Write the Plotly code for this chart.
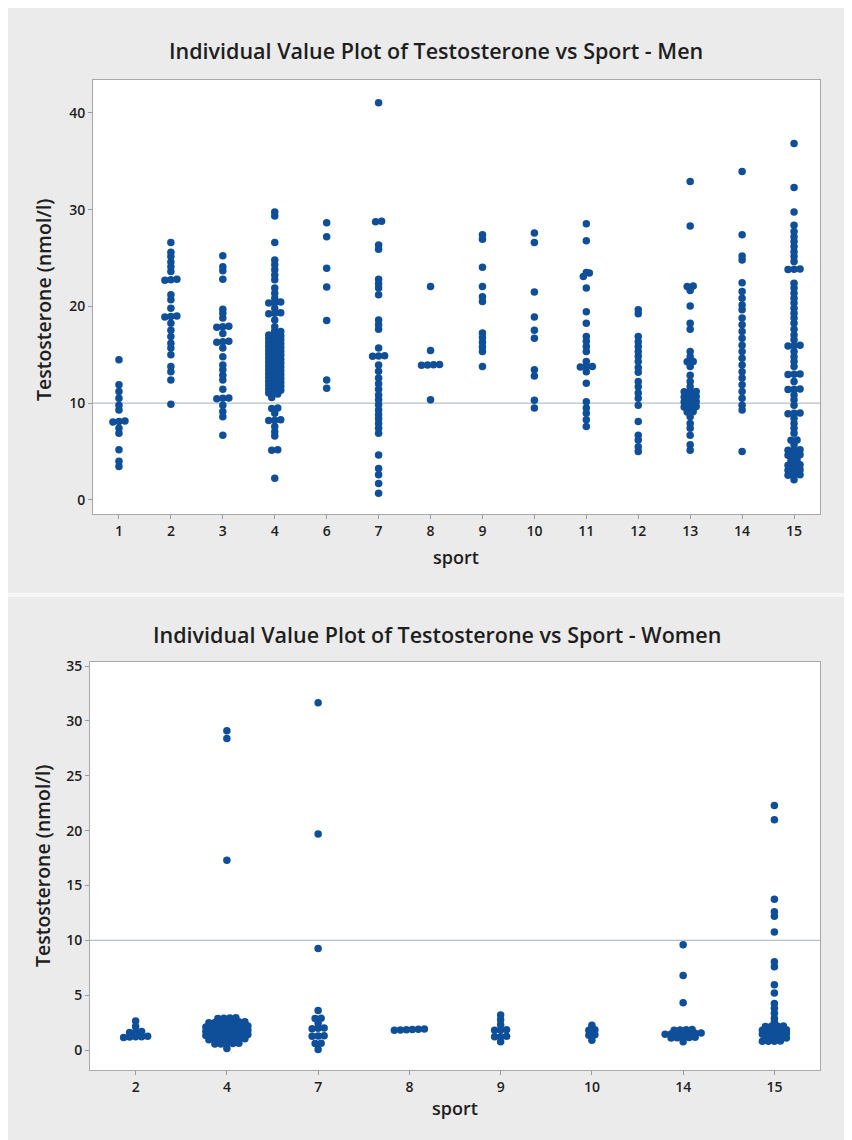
import plotly.graph_objects as go

# ---------------- data ----------------
men_sports = ["1", "2", "3", "4", "6", "7", "8", "9", "10", "11", "12", "13", "14", "15"]

men_s1 = [14.5, 11.9, 11.2, 10.5, 9.8, 9.3, 8.15, 8.1, 8.05, 7.4, 6.9, 5.2, 4.0, 3.45]
men_s2 = [26.6, 25.6, 25.15, 24.6, 24.1, 23.6, 22.8, 22.75, 22.7, 21.2, 20.7, 19.8, 19.0,
          18.95, 18.9, 18.25, 17.55, 16.9, 16.2, 15.7, 15.0, 13.8, 13.25, 12.4, 9.9]
men_s3 = [25.25, 24.1, 23.7, 22.8, 19.7, 19.3, 18.8, 17.95, 17.9, 17.85, 17.2, 16.4, 16.35,
          16.3, 15.7, 14.8, 13.95, 13.45, 12.9, 12.4, 11.45, 10.55, 10.5, 10.45, 9.8, 9.15,
          8.6, 6.7]
men_s4 = [29.75, 29.35, 26.6, 24.8, 24.3, 23.8, 23.25, 22.75, 21.9, 21.35, 20.85, 20.45,
          20.4, 20.35, 19.8, 19.35, 19.3, 19.25, 18.6, 17.9, 17.45, 17.4, 17.3, 17.05, 16.95,
          16.85, 16.65, 16.55, 16.45, 16.25, 16.15, 16.05, 15.85, 15.75, 15.65, 15.45, 15.35,
          15.25, 15.05, 14.95, 14.85, 14.65, 14.55, 14.45, 14.25, 14.15, 14.05, 13.85, 13.75,
          13.65, 13.45, 13.35, 13.25, 13.05, 12.95, 12.85, 12.65, 12.55, 12.45, 12.25, 12.15,
          12.05, 11.85, 11.75, 11.65, 11.45, 11.35, 11.25, 11.05, 10.95, 10.6, 9.5, 9.45,
          8.95, 8.3, 8.25, 8.2, 7.6, 7.05, 6.6, 5.2, 5.15, 2.25]
men_s6 = [28.65, 27.2, 23.95, 22.0, 18.55, 12.4, 11.55]
men_s7 = [41.05, 28.8, 28.75, 26.35, 25.9, 22.8, 22.35, 21.9, 21.2, 18.6, 18.1, 17.65, 15.7,
          14.9, 14.88, 14.85, 13.95, 13.3, 12.6, 12.0, 11.45, 10.85, 10.35, 9.85, 9.3, 8.8,
          8.4, 7.9, 7.4, 6.9, 4.65, 3.25, 2.6, 1.7, 0.7]
men_s8 = [22.05, 15.45, 14.0, 13.97, 13.95, 13.92, 10.35]
men_s9 = [27.4, 26.95, 24.05, 22.05, 21.0, 20.5, 17.25, 16.8, 16.3, 15.8, 15.35, 13.8]
men_s10 = [27.6, 26.6, 21.5, 18.9, 17.55, 16.7, 13.45, 12.8, 10.3, 9.5]
men_s11 = [28.55, 26.8, 23.5, 23.45, 23.1, 21.9, 19.45, 18.25, 16.9, 16.4, 15.85, 15.35,
           14.3, 13.8, 13.78, 13.75, 13.25, 12.05, 10.15, 9.5, 8.95, 8.3, 7.6]
men_s12 = [19.65, 19.25, 16.9, 16.35, 15.85, 15.35, 14.85, 14.3, 13.7, 13.2, 12.25, 11.7,
           11.05, 10.5, 9.8, 8.1, 6.7, 6.2, 5.5, 5.0]
men_s13 = [32.9, 28.3, 22.1, 22.05, 21.65, 20.05, 18.25, 17.65, 15.35, 14.8, 14.32, 14.28,
           13.8, 12.9, 12.25, 11.7, 11.22, 11.2, 11.18, 10.7, 10.68, 10.65, 10.18, 10.15,
           10.12, 9.65, 9.62, 9.6, 9.13, 9.1, 8.6, 7.9, 7.4, 6.7, 5.7, 5.15]
men_s14 = [33.95, 27.4, 25.2, 24.8, 22.45, 21.55, 20.85, 20.15, 19.65, 18.8, 18.1, 17.4,
           16.7, 16.0, 15.35, 14.65, 13.95, 13.25, 12.6, 11.9, 11.2, 10.5, 9.8, 9.3, 5.0]
men_s15 = [36.85, 32.3, 29.75, 28.4, 27.75, 27.2, 26.7, 26.2, 25.65, 25.15, 24.65, 23.88,
           23.85, 23.82, 22.4, 21.9, 21.35, 20.85, 20.35, 19.8, 19.3, 18.8, 18.25, 17.65,
           17.05, 16.55, 15.98, 15.95, 15.92, 15.35, 14.8, 14.3, 13.8, 13.02, 13.0, 12.97,
           12.25, 11.47, 11.45, 11.42, 10.85, 10.35, 9.8, 8.98, 8.95, 8.92, 8.45, 7.9, 7.4,
           6.9, 6.2, 6.18, 5.7, 5.2, 5.17, 5.15, 4.68, 4.65, 4.62, 4.15, 4.1, 3.65, 3.62,
           3.6, 3.12, 3.1, 3.08, 2.6, 2.58, 2.55, 2.1]

men_values = [men_s1, men_s2, men_s3, men_s4, men_s6, men_s7, men_s8, men_s9, men_s10,
              men_s11, men_s12, men_s13, men_s14, men_s15]

women_sports = ["2", "4", "7", "8", "9", "10", "14", "15"]

women_s2 = [2.65, 2.15, 1.7, 1.65, 1.6, 1.25, 1.22, 1.2, 1.18, 1.15]
women_s4 = [29.1, 28.4, 17.3,
            2.88, 2.9, 2.92, 2.95,
            2.49, 2.5, 2.52, 2.53, 2.55, 2.57, 2.58,
            2.1, 2.11, 2.13, 2.14, 2.16, 2.17, 2.19, 2.2,
            1.71, 1.72, 1.74, 1.75, 1.77, 1.78, 1.8, 1.81,
            1.32, 1.33, 1.35, 1.36, 1.38, 1.39, 1.41, 1.42,
            0.93, 0.95, 0.96, 0.98, 0.99, 1.01, 1.02,
            0.54, 0.56, 0.58, 0.6, 0.62,
            0.15]
women_s7 = [31.65, 19.7, 9.25, 3.6, 2.9, 2.88, 2.45, 2.0, 1.98, 1.95, 1.3, 1.28, 1.25,
            0.62, 0.6, 0.05]
women_s8 = [1.8, 1.82, 1.85, 1.88, 1.9, 1.92]
women_s9 = [3.2, 2.75, 2.3, 1.85, 1.82, 1.8, 1.25, 1.22, 1.2, 0.75]
women_s10 = [2.25, 1.85, 1.8, 1.4, 1.35, 0.9]
women_s14 = [9.6, 6.8, 4.3, 1.8, 1.82, 1.85, 1.87, 1.45, 1.46, 1.48, 1.5, 1.52, 1.53,
             1.55, 1.1, 1.12, 1.13, 1.15, 1.17, 0.75]
women_s15 = [22.3, 21.0, 13.75, 12.6, 12.2, 10.75, 8.05, 7.6, 5.95, 5.2, 4.25, 3.8, 3.35,
             2.9, 2.55, 2.2, 2.18, 2.16, 2.15, 1.85, 1.84, 1.83, 1.82, 1.8, 1.5, 1.49,
             1.48, 1.47, 1.45, 1.15, 1.14, 1.13, 1.12, 1.1, 0.82, 0.81, 0.8, 0.79]

women_values = [women_s2, women_s4, women_s7, women_s8, women_s9, women_s10, women_s14,
                women_s15]

reference_value = 10
men_yticks = [0, 10, 20, 30, 40]
women_yticks = [0, 5, 10, 15, 20, 25, 30, 35]

# ---------------- layout geometry ----------------
W, H = 844, 1132
OX, OY = 8, 8          # page offset of the figure in the browser

def fx(px):
    return (px - OX) / W

def fy(py):
    return 1 - (py - OY) / H

TOP = dict(x0=93, x1=820, y0=80, y1=514)
BOT = dict(x0=90, x1=820, y0=662, y1=1070)
men_yrange = [-1.45, 43.4]
women_yrange = [-1.82, 35.37]
men_xrange = [-0.5, len(men_sports) - 0.5]
women_xrange = [-0.5, len(women_sports) - 0.5]

DOT = "#0f4f99"
ROW_PX = 3.6
DX_PX = 6.0


def swarm(groups, box, xrange_, yrange_):
    ppu = (box["y1"] - box["y0"]) / (yrange_[1] - yrange_[0])
    ppc = (box["x1"] - box["x0"]) / (xrange_[1] - xrange_[0])
    xs, ys = [], []
    for ci, vals in enumerate(groups):
        rows = []
        for v in sorted(vals):
            if rows and (v - rows[-1][0]) * ppu < ROW_PX:
                rows[-1].append(v)
            else:
                rows.append([v])
        for r in rows:
            n = len(r)
            for i, v in enumerate(r):
                xs.append(ci + (i - (n - 1) / 2) * DX_PX / ppc)
                ys.append(v)
    return xs, ys


mx, my = swarm(men_values, TOP, men_xrange, men_yrange)
wx, wy = swarm(women_values, BOT, women_xrange, women_yrange)

fig = go.Figure()
fig.add_trace(go.Scatter(x=mx, y=my, mode="markers", xaxis="x", yaxis="y",
                         marker=dict(size=7.5, color=DOT, line=dict(width=0)),
                         showlegend=False, hoverinfo="y"))
fig.add_trace(go.Scatter(x=wx, y=wy, mode="markers", xaxis="x2", yaxis="y2",
                         marker=dict(size=7.5, color=DOT, line=dict(width=0)),
                         showlegend=False, hoverinfo="y"))

FONT = "Open Sans, Noto Sans, sans-serif"
TXT = "#1e1e1e"
FRAME = "#a8a8a8"

axis_common = dict(showgrid=False, zeroline=False, showline=True, linecolor=FRAME,
                   linewidth=1, mirror=True, ticks="outside", ticklen=4, tickcolor="#9a9a9a",
                   tickfont=dict(family=FONT, size=14, color=TXT, weight=600),
                   automargin=False, fixedrange=True)

fig.update_layout(
    width=W, height=H,
    margin=dict(l=0, r=0, t=0, b=0),
    paper_bgcolor="#ebebeb",
    plot_bgcolor="white",
    template="none",
    xaxis=dict(domain=[fx(TOP["x0"]), fx(TOP["x1"])], range=men_xrange, anchor="y",
               tickmode="array", tickvals=list(range(len(men_sports))), ticktext=men_sports,
               **axis_common),
    yaxis=dict(domain=[fy(TOP["y1"]), fy(TOP["y0"])], range=men_yrange, anchor="x",
               tickmode="array", tickvals=men_yticks, **axis_common),
    xaxis2=dict(domain=[fx(BOT["x0"]), fx(BOT["x1"])], range=women_xrange, anchor="y2",
                tickmode="array", tickvals=list(range(len(women_sports))),
                ticktext=women_sports, **axis_common),
    yaxis2=dict(domain=[fy(BOT["y1"]), fy(BOT["y0"])], range=women_yrange, anchor="x2",
                tickmode="array", tickvals=women_yticks, **axis_common),
)

shapes = [
    dict(type="line", xref="x domain", yref="y", x0=0, x1=1, y0=reference_value,
         y1=reference_value, line=dict(color="#b3c0c8", width=1.3), layer="below"),
    dict(type="line", xref="x2 domain", yref="y2", x0=0, x1=1, y0=reference_value,
         y1=reference_value, line=dict(color="#b3c0c8", width=1.3), layer="below"),
    dict(type="rect", xref="paper", yref="paper", x0=0, x1=1, y0=fy(597), y1=fy(593),
         fillcolor="#f7f7f7", line=dict(width=0), layer="below"),
]
fig.update_layout(shapes=shapes)

ann = []
ann.append(dict(text="Individual Value Plot of Testosterone vs Sport - Men", x=fx(436),
                y=fy(50), xref="paper", yref="paper", showarrow=False,
                font=dict(family=FONT, size=21.5, color=TXT, weight=600), xanchor="center",
                yanchor="middle"))
ann.append(dict(text="Individual Value Plot of Testosterone vs Sport - Women", x=fx(437),
                y=fy(634), xref="paper", yref="paper", showarrow=False,
                font=dict(family=FONT, size=21.5, color=TXT, weight=600), xanchor="center",
                yanchor="middle"))
for yc in (300, 866):
    ann.append(dict(text="Testosterone (nmol/l)", x=fx(43), y=fy(yc), xref="paper",
                    yref="paper", showarrow=False, textangle=-90,
                    font=dict(family=FONT, size=19.5, color=TXT, weight=600),
                    xanchor="center", yanchor="middle"))
for xc, yc in ((456, 557), (455, 1108)):
    ann.append(dict(text="sport", x=fx(xc), y=fy(yc), xref="paper", yref="paper",
                    showarrow=False, font=dict(family=FONT, size=18, color=TXT, weight=600),
                    xanchor="center", yanchor="middle"))
fig.update_layout(annotations=ann)

fig.write_html("out.html")
